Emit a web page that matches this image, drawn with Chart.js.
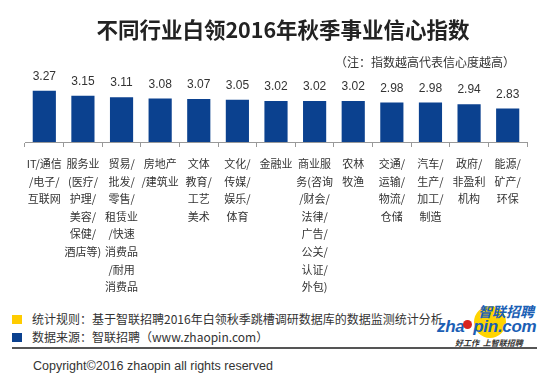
<!DOCTYPE html>
<html>
<head>
<meta charset="utf-8">
<script src="https://cdn.jsdelivr.net/npm/chart.js@4.4.1/dist/chart.umd.min.js"></script>
<style>
  body { margin: 0; background: #fff; font-family: "Noto Sans CJK SC", sans-serif; }
  #page { position: relative; width: 550px; height: 377px; overflow: hidden; }
  .abs { position: absolute; white-space: nowrap; }
  #title { left: 18px; width: 530px; top: 15px; text-align: center; font-size: 21.5px; font-weight: bold; color: #222; line-height: 28px; }
  #note { right: 35px; top: 54px; font-size: 12px; color: #333; line-height: 16px; }
  #chartBox { left: 0; top: -15px; }
  .sq { position: absolute; width: 10px; height: 9px; }
  .foot { font-size: 12px; color: #333; line-height: 16px; }
  #rule { left: 12px; top: 347px; width: 525px; height: 0; border-top: 2px solid #555; }
  #copy { left: 33px; top: 358px; font-family: "Liberation Sans", sans-serif; font-size: 12.5px; color: #333; line-height: 16px; }
  #logo1 { left: 478px; top: 302px; font-size: 14px; font-weight: bold; font-style: italic; color: #1b5fb5; line-height: 18px; }
  #logo2 { left: 437px; top: 318px; font-family: "Liberation Sans", sans-serif; font-size: 17px; font-weight: bold; font-style: italic; color: #1b5fb5; line-height: 18px; letter-spacing: -0.3px; }
  #logo3 { left: 455px; top: 338px; font-size: 8px; font-weight: bold; font-style: italic; color: #333; line-height: 10px; }
  #sun { left: 474px; top: 306px; width: 32px; height: 32px; border-radius: 50%; background: #ffd400; }
  #ball { left: 463px; top: 320px; width: 9px; height: 9px; border-radius: 50%; background: #d9231e; }
</style>
</head>
<body>
<div id="page">
  <div id="chartBox" class="abs"><canvas id="chart" width="550" height="314"></canvas></div>
  <div id="title" class="abs">不同行业白领2016年秋季事业信心指数</div>
  <div id="note" class="abs">（注：指数越高代表信心度越高）</div>

  <div class="sq" style="left:12px; top:315px; background:#ffcc00;"></div>
  <div class="abs foot" style="left:32px; top:311px;">统计规则：基于智联招聘2016年白领秋季跳槽调研数据库的数据监测统计分析</div>
  <div class="sq" style="left:12px; top:333px; background:#0b418f;"></div>
  <div class="abs foot" style="left:32px; top:329px;">数据来源：智联招聘（www.zhaopin.com）</div>
  <div id="rule" class="abs"></div>
  <div id="copy" class="abs">Copyright©2016 zhaopin all rights reserved</div>

  <div id="sun" class="abs"></div>
  <div id="logo1" class="abs">智联招聘</div>
  <div id="logo2" class="abs">zha&nbsp;&nbsp;pin.com</div>
  <div id="ball" class="abs"></div>
  <div id="logo3" class="abs">好工作&nbsp;&nbsp;上智联招聘</div>
</div>

<script>
// 行业（多行标签）
const industries = [
    ['IT/通信', '/电子/', '互联网'],
    ['服务业', '(医疗/', '护理/', '美容/', '保健/', '酒店等)'],
    ['贸易/', '批发/', '零售/', '租赁业', '/快速', '消费品', '/耐用', '消费品'],
    ['房地产', '/建筑业'],
    ['文体', '教育/', '工艺', '美术'],
    ['文化/', '传媒/', '娱乐/', '体育'],
    ['金融业'],
    ['商业服', '务(咨询', '/财会/', '法律/', '广告/', '公关/', '认证/', '外包)'],
    ['农林', '牧渔'],
    ['交通/', '运输/', '物流/', '仓储'],
    ['汽车/', '生产/', '加工/', '制造'],
    ['政府/', '非盈利', '机构'],
    ['能源/', '矿产/', '环保']
];
const confidenceIndex = [3.27, 3.15, 3.11, 3.08, 3.07, 3.05, 3.02, 3.02, 3.02, 2.98, 2.98, 2.94, 2.83];
const yMin = 2;
const yMax = 5.9;

// 柱顶数值
const valueLabels = {
    id: 'valueLabels',
    afterDatasetsDraw(chart) {
        const ctx = chart.ctx;
        const meta = chart.getDatasetMeta(0);
        ctx.save();
        ctx.font = '12px "Liberation Sans", sans-serif';
        ctx.fillStyle = '#333';
        ctx.textAlign = 'center';
        ctx.textBaseline = 'alphabetic';
        meta.data.forEach((bar, i) => {
            ctx.fillText(confidenceIndex[i].toFixed(2), bar.x, bar.y - 11);
        });
        ctx.restore();
    }
};

// x 轴标签很高，需要 >= 2 倍于它的可用高度，所以图表区往上延伸
new Chart(document.getElementById('chart'), {
    type: 'bar',
    data: {
        labels: industries,
        datasets: [{
            data: confidenceIndex,
            backgroundColor: '#0b418f',
            barPercentage: 0.6,
            categoryPercentage: 1
        }]
    },
    options: {
        responsive: false,
        animation: false,
        devicePixelRatio: 1,
        layout: { padding: { left: 25, right: 23, top: 0, bottom: 0 } },
        plugins: { legend: { display: false }, tooltip: { enabled: false } },
        scales: {
            x: {
                grid: { display: true, drawOnChartArea: false, drawTicks: true, tickLength: 5, offset: true, color: '#999' },
                border: { color: '#999' },
                ticks: {
                    autoSkip: false, maxRotation: 0, padding: 8, color: '#333',
                    font: { size: 11, family: '"Noto Sans CJK SC", sans-serif', lineHeight: 1.6 }
                }
            },
            y: { display: false, min: yMin, max: yMax }
        }
    },
    plugins: [valueLabels]
});
</script>
</body>
</html>
